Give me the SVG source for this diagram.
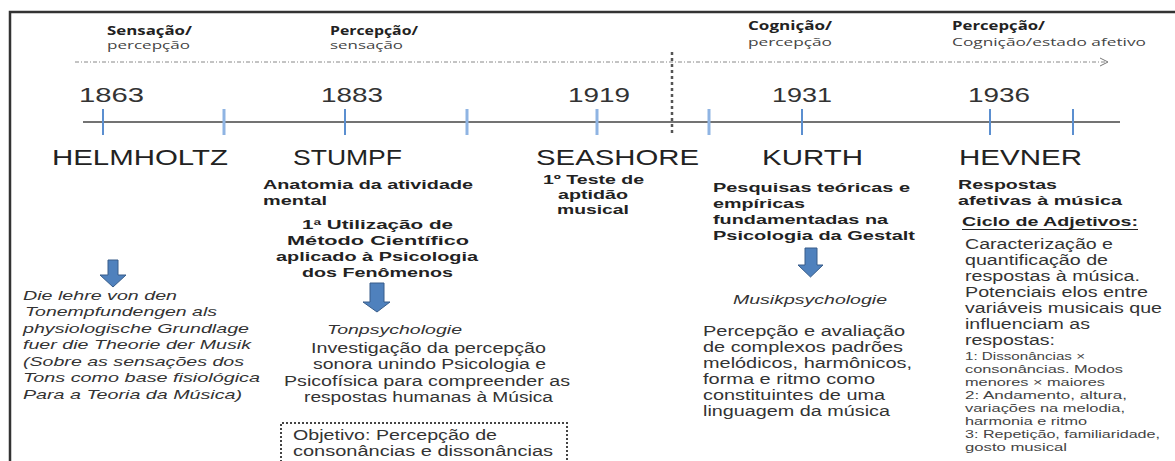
<svg xmlns="http://www.w3.org/2000/svg" width="1175" height="461" viewBox="0 0 1175 461">
<defs>
<style>
.lab-b{font-family:"Open Sans","Liberation Sans",sans-serif;font-weight:bold;font-size:11.5px;fill:#222}
.lab{font-family:"Open Sans","Liberation Sans",sans-serif;font-size:11.5px;fill:#444}
.yr{font-family:"Liberation Sans",Arial,sans-serif;font-size:21px;fill:#333}
.nm{font-family:"Liberation Sans",Arial,sans-serif;font-size:22px;fill:#222}
.bd{font-family:"Liberation Sans",Arial,sans-serif;font-weight:bold;font-size:13px;fill:#222}
.it{font-family:"Liberation Sans",Arial,sans-serif;font-style:italic;font-size:13.5px;fill:#333}
.bt{font-family:"Liberation Sans",Arial,sans-serif;font-size:14px;fill:#333}
.sm{font-family:"Liberation Sans",Arial,sans-serif;font-size:11.5px;fill:#444}
.tk{stroke:#5b8fd0;stroke-width:2}
.tk2{stroke:#8fb4e3;stroke-width:3}
.blk{fill:#4f81bd;stroke:#385d8a;stroke-width:1}
</style>
</defs>
<rect x="0" y="0" width="1175" height="461" fill="#fff"/>
<rect x="10" y="12" width="1200" height="500" fill="none" stroke="#333" stroke-width="2.5"/>

<g id="connectors">
<line x1="75" y1="62" x2="1106" y2="62" stroke="#888" stroke-width="1" stroke-dasharray="4,2,1,2"/>
<polyline points="1100,58 1108,62 1100,66" fill="none" stroke="#777" stroke-width="1"/>
<line x1="672" y1="52" x2="672" y2="134" stroke="#555" stroke-width="2.5" stroke-dasharray="3,3"/>
<line x1="83" y1="122" x2="1120" y2="122" stroke="#444" stroke-width="1.5"/>
<line class="tk" x1="103" y1="109" x2="103" y2="135"/>
<line class="tk2" x1="224" y1="109" x2="224" y2="135"/>
<line class="tk" x1="345" y1="109" x2="345" y2="135"/>
<line class="tk2" x1="467" y1="109" x2="467" y2="135"/>
<line class="tk2" x1="597" y1="109" x2="597" y2="135"/>
<line class="tk2" x1="709" y1="109" x2="709" y2="135"/>
<line class="tk" x1="802" y1="109" x2="802" y2="135"/>
<line class="tk" x1="990" y1="109" x2="990" y2="135"/>
<line class="tk" x1="1073" y1="109" x2="1073" y2="135"/>
<polygon class="blk" points="108,260 118,260 118,275 126,275 113,287 100,275 108,275"/>
<polygon class="blk" points="370,283 384,283 384,302 390,302 377,312 363,302 370,302"/>
<polygon class="blk" points="805,248 817,248 817,265 823,265 810.5,277 798,265 805,265"/>
</g>

<g id="era-labels">
<text class="lab-b" x="107" y="35" textLength="85" lengthAdjust="spacingAndGlyphs">Sensação/</text>
<text class="lab" x="107" y="49" textLength="83" lengthAdjust="spacingAndGlyphs">percepção</text>
<text class="lab-b" x="330" y="35" textLength="88" lengthAdjust="spacingAndGlyphs">Percepção/</text>
<text class="lab" x="330" y="49" textLength="73" lengthAdjust="spacingAndGlyphs">sensação</text>
<text class="lab-b" x="748" y="30" textLength="84" lengthAdjust="spacingAndGlyphs">Cognição/</text>
<text class="lab" x="748" y="46" textLength="84" lengthAdjust="spacingAndGlyphs">percepção</text>
<text class="lab-b" x="952" y="30" textLength="93" lengthAdjust="spacingAndGlyphs">Percepção/</text>
<text class="lab" x="952" y="46" textLength="194" lengthAdjust="spacingAndGlyphs">Cognição/estado afetivo</text>
</g>

<g id="helmholtz">
<text class="yr" x="79" y="102" textLength="65" lengthAdjust="spacingAndGlyphs">1863</text>
<text class="nm" x="52" y="165" textLength="176" lengthAdjust="spacingAndGlyphs">HELMHOLTZ</text>
<text class="it" x="23" y="300" textLength="154" lengthAdjust="spacingAndGlyphs">Die lehre von den</text>
<text class="it" x="25" y="316" textLength="192" lengthAdjust="spacingAndGlyphs">Tonempfundengen als</text>
<text class="it" x="23" y="333" textLength="226" lengthAdjust="spacingAndGlyphs">physiologische Grundlage</text>
<text class="it" x="23" y="349" textLength="228" lengthAdjust="spacingAndGlyphs">fuer die Theorie der Musik</text>
<text class="it" x="23" y="366" textLength="221" lengthAdjust="spacingAndGlyphs">(Sobre as sensações dos</text>
<text class="it" x="23" y="382" textLength="237" lengthAdjust="spacingAndGlyphs">Tons como base fisiológica</text>
<text class="it" x="23" y="399" textLength="219" lengthAdjust="spacingAndGlyphs">Para a Teoria da Música)</text>
</g>

<g id="stumpf">
<text class="yr" x="321" y="102" textLength="62" lengthAdjust="spacingAndGlyphs">1883</text>
<text class="nm" x="293" y="165" textLength="109" lengthAdjust="spacingAndGlyphs">STUMPF</text>
<text class="bd" x="263" y="189" textLength="210" lengthAdjust="spacingAndGlyphs">Anatomia da atividade</text>
<text class="bd" x="263" y="205" textLength="64" lengthAdjust="spacingAndGlyphs">mental</text>
<text class="bd" x="302" y="229" textLength="151" lengthAdjust="spacingAndGlyphs">1ª  Utilização de</text>
<text class="bd" x="287" y="245" textLength="182" lengthAdjust="spacingAndGlyphs">Método Científico</text>
<text class="bd" x="276" y="261" textLength="202" lengthAdjust="spacingAndGlyphs">aplicado à Psicologia</text>
<text class="bd" x="302" y="277" textLength="151" lengthAdjust="spacingAndGlyphs">dos Fenômenos</text>
<text class="it" x="327" y="334" textLength="135" lengthAdjust="spacingAndGlyphs">Tonpsychologie</text>
<text class="bt" x="311" y="353" textLength="235" lengthAdjust="spacingAndGlyphs">Investigação da percepção</text>
<text class="bt" x="313" y="369" textLength="233" lengthAdjust="spacingAndGlyphs">sonora unindo Psicologia e</text>
<text class="bt" x="284" y="386" textLength="286" lengthAdjust="spacingAndGlyphs">Psicofísica para compreender as</text>
<text class="bt" x="304" y="402" textLength="249" lengthAdjust="spacingAndGlyphs">respostas humanas à Música</text>
<path d="M281,470 V423 H567 V470" fill="none" stroke="#444" stroke-width="2" stroke-dasharray="2,2"/>
<text class="bt" x="293" y="440" textLength="204" lengthAdjust="spacingAndGlyphs">Objetivo: Percepção de</text>
<text class="bt" x="293" y="456" textLength="260" lengthAdjust="spacingAndGlyphs">consonâncias e dissonâncias</text>
</g>

<g id="seashore">
<text class="yr" x="568" y="102" textLength="62" lengthAdjust="spacingAndGlyphs">1919</text>
<text class="nm" x="536" y="165" textLength="163" lengthAdjust="spacingAndGlyphs">SEASHORE</text>
<text class="bd" x="543" y="184" textLength="101" lengthAdjust="spacingAndGlyphs">1º Teste de</text>
<text class="bd" x="558" y="199" textLength="70" lengthAdjust="spacingAndGlyphs">aptidão</text>
<text class="bd" x="557" y="214" textLength="72" lengthAdjust="spacingAndGlyphs">musical</text>
</g>

<g id="kurth">
<text class="yr" x="772" y="102" textLength="60" lengthAdjust="spacingAndGlyphs">1931</text>
<text class="nm" x="762" y="165" textLength="101" lengthAdjust="spacingAndGlyphs">KURTH</text>
<text class="bd" x="713" y="192" textLength="197" lengthAdjust="spacingAndGlyphs">Pesquisas teóricas e</text>
<text class="bd" x="713" y="208" textLength="92" lengthAdjust="spacingAndGlyphs">empíricas</text>
<text class="bd" x="713" y="224" textLength="175" lengthAdjust="spacingAndGlyphs">fundamentadas na</text>
<text class="bd" x="713" y="240" textLength="202" lengthAdjust="spacingAndGlyphs">Psicologia da Gestalt</text>
<text class="it" x="733" y="304" textLength="154" lengthAdjust="spacingAndGlyphs">Musikpsychologie</text>
<text class="bt" x="703" y="336" textLength="202" lengthAdjust="spacingAndGlyphs">Percepção e avaliação</text>
<text class="bt" x="703" y="352" textLength="200" lengthAdjust="spacingAndGlyphs">de complexos padrões</text>
<text class="bt" x="703" y="368" textLength="209" lengthAdjust="spacingAndGlyphs">melódicos, harmônicos,</text>
<text class="bt" x="703" y="384" textLength="172" lengthAdjust="spacingAndGlyphs">forma e ritmo como</text>
<text class="bt" x="703" y="400" textLength="182" lengthAdjust="spacingAndGlyphs">constituintes de uma</text>
<text class="bt" x="703" y="416" textLength="187" lengthAdjust="spacingAndGlyphs">linguagem da música</text>
</g>

<g id="hevner">
<text class="yr" x="968" y="102" textLength="62" lengthAdjust="spacingAndGlyphs">1936</text>
<text class="nm" x="959" y="165" textLength="123" lengthAdjust="spacingAndGlyphs">HEVNER</text>
<text class="bd" x="958" y="189" textLength="99" lengthAdjust="spacingAndGlyphs">Respostas</text>
<text class="bd" x="958" y="205" textLength="164" lengthAdjust="spacingAndGlyphs">afetivas à música</text>
<text class="bd" x="962" y="226" textLength="176" lengthAdjust="spacingAndGlyphs">Ciclo de Adjetivos:</text>
<line x1="962" y1="229.5" x2="1138" y2="229.5" stroke="#222" stroke-width="1.2"/>
<text class="bt" x="965" y="249" textLength="148" lengthAdjust="spacingAndGlyphs">Caracterização e</text>
<text class="bt" x="965" y="265" textLength="143" lengthAdjust="spacingAndGlyphs">quantificação de</text>
<text class="bt" x="965" y="281" textLength="175" lengthAdjust="spacingAndGlyphs">respostas à música.</text>
<text class="bt" x="965" y="297" textLength="183" lengthAdjust="spacingAndGlyphs">Potenciais elos entre</text>
<text class="bt" x="965" y="313" textLength="197" lengthAdjust="spacingAndGlyphs">variáveis musicais que</text>
<text class="bt" x="965" y="329" textLength="125" lengthAdjust="spacingAndGlyphs">influenciam as</text>
<text class="bt" x="965" y="345" textLength="90" lengthAdjust="spacingAndGlyphs">respostas:</text>
<text class="sm" x="965" y="360" textLength="120" lengthAdjust="spacingAndGlyphs">1: Dissonâncias ×</text>
<text class="sm" x="965" y="373" textLength="158" lengthAdjust="spacingAndGlyphs">consonâncias. Modos</text>
<text class="sm" x="965" y="386" textLength="140" lengthAdjust="spacingAndGlyphs">menores × maiores</text>
<text class="sm" x="965" y="399" textLength="162" lengthAdjust="spacingAndGlyphs">2: Andamento, altura,</text>
<text class="sm" x="965" y="412" textLength="160" lengthAdjust="spacingAndGlyphs">variações na melodia,</text>
<text class="sm" x="965" y="425" textLength="122" lengthAdjust="spacingAndGlyphs">harmonia e ritmo</text>
<text class="sm" x="965" y="438" textLength="195" lengthAdjust="spacingAndGlyphs">3: Repetição, familiaridade,</text>
<text class="sm" x="965" y="451" textLength="102" lengthAdjust="spacingAndGlyphs">gosto musical</text>
</g>
</svg>
